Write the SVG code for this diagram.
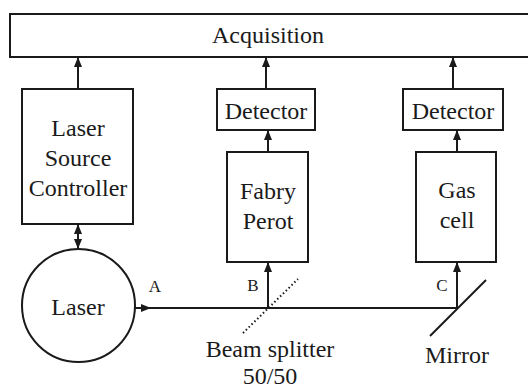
<svg xmlns="http://www.w3.org/2000/svg" width="528" height="388" viewBox="0 0 528 388">
  <style>
    .box { fill: #fff; stroke: #1a1a1a; stroke-width: 2; }
    .lbl { font-family: 'Liberation Serif', 'DejaVu Serif', 'Times New Roman', serif; font-size: 24px; fill: #1a1a1a; text-anchor: middle; }
    .pt { font-family: 'Liberation Serif', 'DejaVu Serif', 'Times New Roman', serif; font-size: 17px; fill: #1a1a1a; text-anchor: middle; }
    .wire { stroke: #1a1a1a; stroke-width: 2; fill: none; }
  </style>
  <defs>
    <marker id="arr" viewBox="0 0 10 8" refX="10" refY="4" markerWidth="5" markerHeight="4" orient="auto-start-reverse" markerUnits="strokeWidth">
      <path d="M0,0 L10,4 L0,8 Z" fill="#1a1a1a"/>
    </marker>
  </defs>

  <g id="acquisition">
    <rect class="box" x="10" y="14" width="530" height="43"/>
    <text class="lbl" x="268" y="43">Acquisition</text>
  </g>

  <g id="controller">
    <rect class="box" x="22" y="89" width="111" height="135"/>
    <text class="lbl" x="78" y="136">Laser</text>
    <text class="lbl" x="78" y="166">Source</text>
    <text class="lbl" x="78" y="196">Controller</text>
  </g>

  <g id="detector1">
    <rect class="box" x="217" y="89" width="98" height="41"/>
    <text class="lbl" x="266" y="119">Detector</text>
  </g>

  <g id="detector2">
    <rect class="box" x="403" y="89" width="100" height="41"/>
    <text class="lbl" x="453" y="119">Detector</text>
  </g>

  <g id="fabry-perot">
    <rect class="box" x="227" y="152" width="81" height="110"/>
    <text class="lbl" x="268" y="199">Fabry</text>
    <text class="lbl" x="268" y="229">Perot</text>
  </g>

  <g id="gas-cell">
    <rect class="box" x="416" y="152" width="80" height="110"/>
    <text class="lbl" x="457" y="198">Gas</text>
    <text class="lbl" x="457" y="228">cell</text>
  </g>

  <g id="laser">
    <circle class="box" cx="78.5" cy="305.5" r="56.5"/>
    <text class="lbl" x="78" y="315">Laser</text>
  </g>

  <g id="beam-splitter">
    <line x1="243" y1="333" x2="298" y2="279" stroke="#1a1a1a" stroke-width="2" stroke-dasharray="1.5 2.5"/>
    <text class="lbl" x="270" y="357">Beam splitter</text>
    <text class="lbl" x="270" y="384">50/50</text>
  </g>

  <g id="mirror">
    <line x1="486" y1="280" x2="430" y2="336" stroke="#1a1a1a" stroke-width="2"/>
    <text class="lbl" x="457" y="363">Mirror</text>
  </g>

  <g id="connectors">
    <line class="wire" x1="78" y1="89" x2="78" y2="57" marker-end="url(#arr)"/>
    <line class="wire" x1="266" y1="89" x2="266" y2="57" marker-end="url(#arr)"/>
    <line class="wire" x1="453" y1="89" x2="453" y2="57" marker-end="url(#arr)"/>
    <line class="wire" x1="268" y1="152" x2="268" y2="130" marker-end="url(#arr)"/>
    <line class="wire" x1="457" y1="152" x2="457" y2="130" marker-end="url(#arr)"/>
    <line class="wire" x1="78" y1="224" x2="78" y2="249" marker-start="url(#arr)" marker-end="url(#arr)"/>
    <!-- main beam path -->
    <line class="wire" x1="135" y1="308" x2="151" y2="308" marker-end="url(#arr)"/>
    <line class="wire" x1="150" y1="308" x2="458" y2="308"/>
    <line class="wire" x1="268" y1="308" x2="268" y2="262" marker-end="url(#arr)"/>
    <line class="wire" x1="457" y1="308" x2="457" y2="262" marker-end="url(#arr)"/>
    <text class="pt" x="155" y="292">A</text>
    <text class="pt" x="253" y="291">B</text>
    <text class="pt" x="442" y="291">C</text>
  </g>
</svg>
